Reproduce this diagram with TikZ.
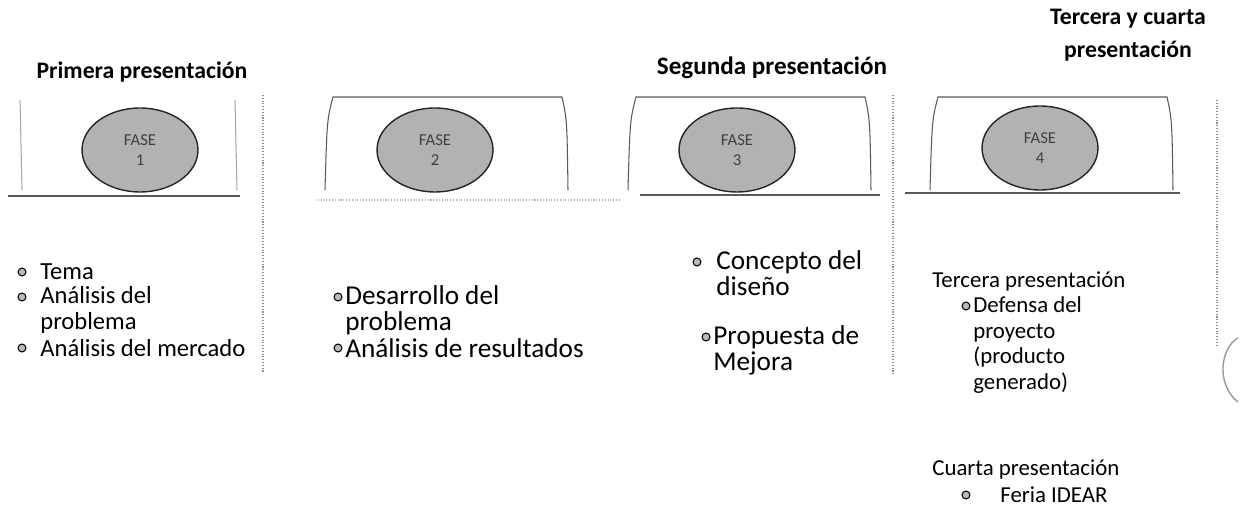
\documentclass[tikz,border=0pt]{standalone}
\usepackage{fontspec}
\setmainfont{Carlito}
\usetikzlibrary{shapes.geometric}

\begin{document}
\begin{tikzpicture}[x=0.02cm, y=-0.02cm,
  every node/.style={inner sep=0pt},
  titulo/.style={font=\fontsize{13.5}{19}\selectfont\bfseries, align=center},
  texto/.style={font=\fontsize{13}{14.7}\selectfont, align=left, anchor=north west},
  linea/.style={font=\fontsize{13}{14.7}\selectfont, anchor=west},
  grande/.style={font=\fontsize{15.5}{14.7}\selectfont},
  punto/.style={circle, draw=black, fill=gray!55, minimum size=4.5pt, line width=0.6pt},
  fase/.style={ellipse, draw=black!85, line width=0.8pt, fill=gray!60, minimum width=2.32cm, minimum height=1.68cm, align=center, font=\fontsize{9.5}{11.5}\selectfont, text=black!75},
  marco/.style={draw=black!65, line width=0.6pt},
  divisor/.style={draw=black!45, densely dotted, line width=0.6pt}]
  \useasboundingbox (0,0) rectangle (1241,523);
  % titulos
  \node[titulo] (t1) at (142,72) {Primera presentación};
  \node[titulo, font=\fontsize{14.3}{19}\selectfont\bfseries] (t2) at (772,68) {Segunda presentación};
  \node[titulo] (t3) at (1128,35) {Tercera y cuarta\\presentación};
  % paneles
  \draw[marco, draw=black!35] (20,100) -- (22,190);
  \draw[marco, draw=black!35] (235,100) -- (237,190);
  \draw[marco] (325,190) .. controls (327,120) .. (333,97) -- (562,97) .. controls (567,120) .. (568,190);
  \draw[marco] (628,190) .. controls (630,120) .. (636,97) -- (865,97) .. controls (870,120) .. (871,190);
  \draw[marco] (930,190) .. controls (932,120) .. (938,97) -- (1167,97) .. controls (1172,120) .. (1173,190);
  \draw[marco] (8,196) -- (240,196);
  \draw[marco, draw=black!30, densely dotted] (318,200) -- (620,200);
  \draw[marco] (640,195) -- (880,195);
  \draw[marco] (905,193) -- (1180,193);
  \draw[divisor] (263,95) -- (263,372);
  \draw[divisor] (893,95) -- (893,375);
  \draw[divisor] (1217,100) -- (1217,345);
  \draw[black!40, line width=0.8pt] (1238,338) .. controls (1220,348) and (1216,385) .. (1238,402);
  % fases
  \node[fase] (f1) at (140,150) {FASE\\1};
  \node[fase] (f2) at (435,150) {FASE\\2};
  \node[fase] (f3) at (737,150) {FASE\\3};
  \node[fase] (f4) at (1040,148) {FASE\\4};
  % fase 1
  \node[punto] (b1) at (22,272) {};
  \node[linea, font=\fontsize{14}{14.7}\selectfont] (a1) at (40,272) {Tema};
  \node[punto] (b2) at (22,297) {};
  \node[texto, font=\fontsize{14}{14.7}\selectfont] (a2) at (40,286) {Análisis del\\problema};
  \node[punto] (b3) at (22,348) {};
  \node[linea, font=\fontsize{14}{14.7}\selectfont] (a3) at (40,348) {Análisis del mercado};
  % fase 2
  \node[punto] (b4) at (338,297) {};
  \node[texto, grande] (a4) at (345,285) {Desarrollo del\\problema};
  \node[punto] (b5) at (338,348) {};
  \node[linea, grande] (a5) at (345,348) {Análisis de resultados};
  % fase 3
  \node[punto] (b6) at (697,262) {};
  \node[texto, grande] (a6) at (716,250) {Concepto del\\diseño};
  \node[punto] (b7) at (706,337) {};
  \node[texto, grande] (a7) at (713,325) {Propuesta de\\Mejora};
  % fase 4
  \node[linea] (c1) at (932,281) {Tercera presentación};
  \node[punto] (b8) at (966,306) {};
  \node[texto] (a8) at (973,296) {Defensa del\\proyecto\\(producto\\generado)};
  \node[linea] (c2) at (932,469) {Cuarta presentación};
  \node[punto] (b9) at (966,495) {};
  \node[linea] (a9) at (1000,495) {Feria IDEAR};
\end{tikzpicture}
\end{document}
